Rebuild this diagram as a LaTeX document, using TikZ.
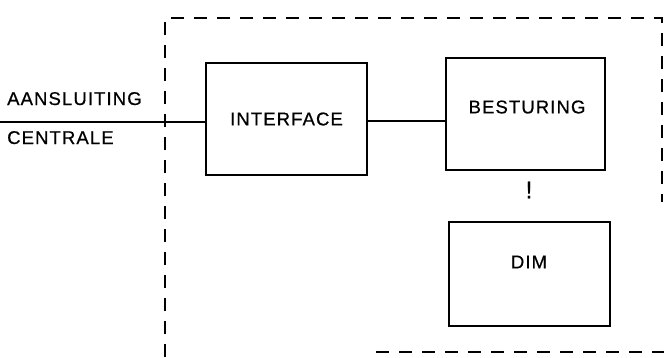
\documentclass[tikz,border=0pt]{standalone}
\usepackage{fontspec}
\setmainfont{Liberation Sans}[LetterSpace=6, FakeBold=0.6]
\tikzset{
  blk/.style={draw, line width=1.8pt, inner sep=0pt},
  frame/.style={line width=2.2pt, dash pattern=on 13pt off 10pt},
  wire/.style={line width=1.8pt},
  lbl/.style={font=\fontsize{18.5}{20}\selectfont, inner sep=0pt, anchor=base west},
  txt/.style={font=\fontsize{18.5}{20}\selectfont}
}
\begin{document}
\begin{tikzpicture}[x=1pt,y=-1pt]
\useasboundingbox (0,0) rectangle (664,357);
% dashed frame
\coordinate (fbl) at (165,357);
\coordinate (ftl) at (165,18);
\coordinate (ftr) at (662,18);
\coordinate (fr) at (662,202);
\coordinate (fbs) at (376,352);
\coordinate (fbe) at (664,352);
\draw[frame] (fbl) -- (ftl) -- (ftr) -- (fr);
\draw[frame] (fbs) -- (fbe);
% blocks
\node[blk, minimum width=161pt, minimum height=112pt, txt] (iface) at (286.5,119) {INTERFACE};
\node[blk, minimum width=159pt, minimum height=112pt] (best) at (525.5,114) {};
\node[txt] at (527,107) {BESTURING};
\node[blk, minimum width=161pt, minimum height=104pt] (dim) at (529.5,274) {};
\node[txt] at (529,262) {DIM};
\node[font=\fontsize{24}{26}\selectfont] (excl) at (529,190) {!};
% connections
\coordinate (lin) at (0,122);
\draw[wire] (lin) -- (lin -| iface.west);
\draw[wire] ([yshift=-2pt]iface.east) -- ([yshift=-2pt]iface.east -| best.west);
% labels
\node[lbl] (aans) at (7,105) {AANSLUITING};
\node[lbl] (centr) at (7,144) {CENTRALE};
\end{tikzpicture}
\end{document}
